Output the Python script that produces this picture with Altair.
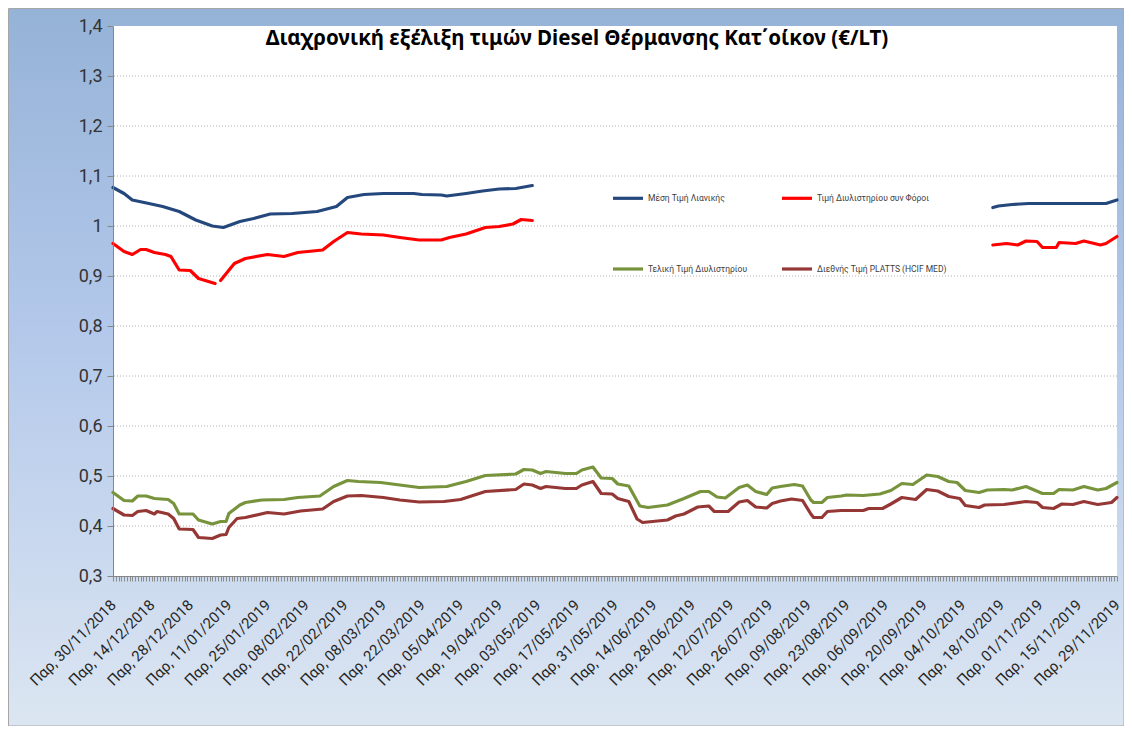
import altair as alt
import pandas as pd

TITLE = "Διαχρονική εξέλιξη τιμών Diesel Θέρμανσης Κατ΄οίκον (€/LT)"
SERIES = ["Μέση Τιμή Λιανικής", "Τιμή Διυλιστηρίου συν Φόροι",
          "Τελική Τιμή Διυλιστηρίου", "Διεθνής Τιμή PLATTS (HCIF MED)"]
COLORS = ["#24477C", "#FF0000", "#77933C", "#953735"]
WIDTHS = [3.2, 3.2, 3.4, 2.3]

Y_TICKS = [0.3, 0.4, 0.5, 0.6, 0.7, 0.8, 0.9, 1.0, 1.1, 1.2, 1.3, 1.4]
GRID_VALUES = [0.4, 0.5, 0.6, 0.7, 0.8, 0.9, 1.0, 1.1, 1.2, 1.3]

# None marks a gap (missing data) in a series
retail_dates = ["2018-11-30", "2018-12-04", "2018-12-07", "2018-12-13", "2018-12-18", "2018-12-24",
                "2018-12-30", "2019-01-05", "2019-01-09", "2019-01-15", "2019-01-20", "2019-01-26",
                "2019-02-03", "2019-02-12", "2019-02-19", "2019-02-23", "2019-03-01", "2019-03-08",
                "2019-03-19", "2019-03-22", "2019-03-29", "2019-03-31", "2019-04-07", "2019-04-13",
                "2019-04-19", "2019-04-25", "2019-05-01", "2019-07-01",
                "2019-10-15", "2019-10-17", "2019-10-22", "2019-10-28", "2019-11-25", "2019-11-29"]
retail_values = [1.077, 1.065, 1.052, 1.045, 1.039, 1.029,
                 1.012, 1.000, 0.997, 1.009, 1.015, 1.024,
                 1.025, 1.029, 1.039, 1.057, 1.063, 1.065,
                 1.065, 1.063, 1.062, 1.060, 1.065, 1.070,
                 1.074, 1.075, 1.081, None,
                 1.037, 1.040, 1.043, 1.045, 1.045, 1.052]

refinery_tax_dates = ["2018-11-30", "2018-12-04", "2018-12-07", "2018-12-10", "2018-12-12", "2018-12-15",
                      "2018-12-19", "2018-12-21", "2018-12-24", "2018-12-28", "2018-12-31", "2019-01-06",
                      "2019-01-07", "2019-01-08", "2019-01-13", "2019-01-17", "2019-01-25", "2019-01-31",
                      "2019-02-05", "2019-02-14", "2019-02-18", "2019-02-23", "2019-02-28", "2019-03-08",
                      "2019-03-14", "2019-03-21", "2019-03-29", "2019-04-01", "2019-04-07", "2019-04-14",
                      "2019-04-19", "2019-04-24", "2019-04-27", "2019-05-01", "2019-07-01",
                      "2019-10-15", "2019-10-20", "2019-10-24", "2019-10-27", "2019-10-31", "2019-11-02",
                      "2019-11-07", "2019-11-08", "2019-11-14", "2019-11-17", "2019-11-23", "2019-11-25",
                      "2019-11-29"]
refinery_tax_values = [0.965, 0.949, 0.943, 0.953, 0.953, 0.947,
                       0.943, 0.939, 0.912, 0.911, 0.895, 0.885,
                       None, 0.891, 0.925, 0.935, 0.943, 0.939,
                       0.947, 0.952, 0.969, 0.987, 0.984, 0.982,
                       0.977, 0.972, 0.972, 0.977, 0.984, 0.997,
                       0.999, 1.004, 1.013, 1.011, None,
                       0.962, 0.965, 0.962, 0.970, 0.969, 0.957,
                       0.957, 0.967, 0.965, 0.970, 0.962, 0.965,
                       0.979]

refinery_dates = ["2018-11-30", "2018-12-04", "2018-12-07", "2018-12-09", "2018-12-12", "2018-12-15",
                  "2018-12-20", "2018-12-22", "2018-12-24", "2018-12-29", "2018-12-31", "2019-01-05",
                  "2019-01-08", "2019-01-10", "2019-01-11", "2019-01-15", "2019-01-17", "2019-01-23",
                  "2019-01-31", "2019-02-05", "2019-02-13", "2019-02-18", "2019-02-23", "2019-02-27",
                  "2019-03-07", "2019-03-14", "2019-03-21", "2019-03-31", "2019-04-07", "2019-04-14",
                  "2019-04-25", "2019-04-28", "2019-05-01", "2019-05-04", "2019-05-06", "2019-05-13",
                  "2019-05-17", "2019-05-19", "2019-05-23", "2019-05-26", "2019-05-30", "2019-06-01",
                  "2019-06-05", "2019-06-09", "2019-06-12", "2019-06-19", "2019-06-25", "2019-07-01",
                  "2019-07-04", "2019-07-07", "2019-07-10", "2019-07-15", "2019-07-18", "2019-07-21",
                  "2019-07-25", "2019-07-27", "2019-07-30", "2019-08-04", "2019-08-07", "2019-08-10",
                  "2019-08-11", "2019-08-14", "2019-08-16", "2019-08-21", "2019-08-23", "2019-08-29",
                  "2019-09-04", "2019-09-08", "2019-09-12", "2019-09-16", "2019-09-21", "2019-09-25",
                  "2019-09-29", "2019-10-02", "2019-10-05", "2019-10-10", "2019-10-13", "2019-10-19",
                  "2019-10-22", "2019-10-27", "2019-11-02", "2019-11-06", "2019-11-08", "2019-11-13",
                  "2019-11-17", "2019-11-22", "2019-11-25", "2019-11-29"]
refinery_values = [0.467, 0.451, 0.450, 0.460, 0.460, 0.455,
                   0.453, 0.445, 0.424, 0.424, 0.412, 0.404,
                   0.409, 0.409, 0.425, 0.442, 0.447, 0.452,
                   0.453, 0.457, 0.460, 0.479, 0.491, 0.489,
                   0.487, 0.482, 0.477, 0.479, 0.489, 0.501,
                   0.504, 0.513, 0.512, 0.505, 0.509, 0.505,
                   0.505, 0.512, 0.518, 0.496, 0.495, 0.484,
                   0.480, 0.440, 0.437, 0.442, 0.455, 0.469,
                   0.469, 0.458, 0.456, 0.477, 0.482, 0.469,
                   0.463, 0.476, 0.479, 0.483, 0.480, 0.452,
                   0.447, 0.447, 0.457, 0.460, 0.462, 0.461,
                   0.464, 0.471, 0.485, 0.483, 0.502, 0.499,
                   0.489, 0.487, 0.471, 0.467, 0.472, 0.473,
                   0.472, 0.479, 0.465, 0.465, 0.473, 0.472,
                   0.479, 0.472, 0.475, 0.487]

platts_dates = ["2018-11-30", "2018-12-04", "2018-12-07", "2018-12-09", "2018-12-12", "2018-12-15",
                "2018-12-16", "2018-12-20", "2018-12-22", "2018-12-24", "2018-12-29", "2018-12-31",
                "2019-01-05", "2019-01-08", "2019-01-10", "2019-01-11", "2019-01-14", "2019-01-17",
                "2019-01-25", "2019-01-31", "2019-02-06", "2019-02-14", "2019-02-18", "2019-02-23",
                "2019-02-28", "2019-03-08", "2019-03-14", "2019-03-21", "2019-03-30", "2019-04-05",
                "2019-04-14", "2019-04-25", "2019-04-28", "2019-05-01", "2019-05-04", "2019-05-06",
                "2019-05-13", "2019-05-17", "2019-05-19", "2019-05-23", "2019-05-26", "2019-05-30",
                "2019-06-01", "2019-06-05", "2019-06-08", "2019-06-10", "2019-06-19", "2019-06-22",
                "2019-06-25", "2019-06-30", "2019-07-04", "2019-07-06", "2019-07-11", "2019-07-15",
                "2019-07-18", "2019-07-21", "2019-07-25", "2019-07-27", "2019-07-30", "2019-08-03",
                "2019-08-07", "2019-08-10", "2019-08-11", "2019-08-14", "2019-08-16", "2019-08-21",
                "2019-08-29", "2019-08-31", "2019-09-05", "2019-09-08", "2019-09-12", "2019-09-17",
                "2019-09-21", "2019-09-25", "2019-09-29", "2019-10-03", "2019-10-05", "2019-10-10",
                "2019-10-12", "2019-10-19", "2019-10-27", "2019-10-31", "2019-11-02", "2019-11-06",
                "2019-11-09", "2019-11-13", "2019-11-17", "2019-11-22", "2019-11-27", "2019-11-29"]
platts_values = [0.435, 0.422, 0.421, 0.429, 0.431, 0.424,
                 0.429, 0.424, 0.415, 0.394, 0.393, 0.377,
                 0.375, 0.382, 0.383, 0.397, 0.415, 0.417,
                 0.427, 0.424, 0.430, 0.434, 0.449, 0.460,
                 0.461, 0.457, 0.452, 0.448, 0.449, 0.453,
                 0.469, 0.473, 0.484, 0.482, 0.475, 0.479,
                 0.475, 0.475, 0.482, 0.489, 0.465, 0.464,
                 0.455, 0.449, 0.414, 0.407, 0.412, 0.420,
                 0.424, 0.438, 0.440, 0.429, 0.429, 0.448,
                 0.451, 0.438, 0.436, 0.445, 0.450, 0.454,
                 0.451, 0.424, 0.417, 0.417, 0.429, 0.431,
                 0.431, 0.435, 0.435, 0.444, 0.457, 0.453,
                 0.473, 0.470, 0.459, 0.455, 0.441, 0.437,
                 0.442, 0.443, 0.449, 0.447, 0.437, 0.435,
                 0.444, 0.443, 0.449, 0.443, 0.447, 0.457]

rows = []
for name, dates, vals in zip(SERIES,
                             [retail_dates, refinery_tax_dates, refinery_dates, platts_dates],
                             [retail_values, refinery_tax_values, refinery_values, platts_values]):
    seg = 0
    for d, v in zip(dates, vals):
        if v is None:
            seg += 1
            continue
        rows.append({"date": d, "value": v, "series": name, "seg": f"{name}-{seg}"})
df = pd.DataFrame(rows)

W, H = 1004, 550
PAD = {"left": 105, "top": 18, "right": 7, "bottom": 150}

x_axis = alt.Axis(
    title=None, grid=False, zindex=1,
    tickCount=alt.TimeIntervalStep(interval="day", step=1),
    labelExpr="(round((datum.value - utc(2018,10,30)) / 86400000) % 14 == 0) ? 'Παρ, ' + utcFormat(datum.value, '%d/%m/%Y') : ''",
    labelAngle=-45, labelAlign="right", labelBaseline="top",
    labelOverlap=False, labelFlush=False, labelBound=False,
    labelFont="Roboto", labelFontSize=15, labelColor="#262626",
    labelPadding=16, labelOffset=-5,
    tickSize=5, tickColor="#8C8C8C", domainColor="#868686",
)
y_axis = alt.Axis(
    title=None, grid=False, zindex=1, values=Y_TICKS,
    labelExpr="datum.value == 1 ? '1' : replace(format(datum.value, '.1f'), '.', ',')",
    labelFont="Roboto", labelFontSize=18, labelColor="#333333", labelPadding=5,
    tickSize=6, tickColor="#868686", domainColor="#868686",
)
y_scale = alt.Scale(domain=[0.3, 1.4], nice=False, zero=False)

gradient = alt.LinearGradient(
    gradient="linear", x1=0, x2=0, y1=0, y2=1,
    stops=[alt.GradientStop(color="#95B3D7", offset=0),
           alt.GradientStop(color="#B3C8EA", offset=0.45),
           alt.GradientStop(color="#DCE6F2", offset=1)],
)

bg = alt.Chart(alt.Data(values=[{"k": 1}])).mark_rect(
    fill=gradient, stroke="#A6A6A6", strokeWidth=1
).encode(x=alt.value(-PAD["left"] + 0.5), x2=alt.value(W + PAD["right"]),
         y=alt.value(-PAD["top"] + 0.5), y2=alt.value(H + PAD["bottom"]))

plot_bg = alt.Chart(alt.Data(values=[{"k": 1}])).mark_rect(fill="white").encode(
    x=alt.value(0), x2=alt.value(W), y=alt.value(0), y2=alt.value(H))

grid = alt.Chart(pd.DataFrame({"g": GRID_VALUES})).mark_rule(
    color="#B0B0B0", strokeDash=[1, 2], strokeWidth=1
).encode(y=alt.Y("g:Q", axis=y_axis, scale=y_scale))

legend = alt.Legend(
    title=None, orient="none", legendX=498, legendY=155, columns=2, direction="horizontal",
    symbolType="stroke", symbolSize=900, symbolStrokeWidth=3,
    labelFont="Roboto", labelFontSize=8.5, labelColor="#404040", labelOffset=3,
    rowPadding=47, columnPadding=27, padding=0, labelLimit=400,
)

lines = alt.Chart(df).mark_line(strokeJoin="round", strokeCap="round").encode(
    x=alt.X("date:T", axis=x_axis,
            scale=alt.Scale(type="utc",
                            domain=[alt.DateTime(year=2018, month=11, date=30, utc=True),
                                    alt.DateTime(year=2019, month=11, date=29, utc=True)])),
    y=alt.Y("value:Q", axis=y_axis, scale=y_scale),
    color=alt.Color("series:N", sort=SERIES, scale=alt.Scale(domain=SERIES, range=COLORS), legend=legend),
    strokeWidth=alt.StrokeWidth("series:N", scale=alt.Scale(domain=SERIES, range=WIDTHS), legend=None),
    detail="seg:N",
)

title = alt.Chart(alt.Data(values=[{"t": TITLE}])).mark_text(
    font="Noto Sans", fontWeight="bold", fontSize=20.5, color="#000000",
    align="center", baseline="alphabetic"
).encode(x=alt.value(464), y=alt.value(19), text="t:N")

chart = alt.layer(bg, plot_bg, grid, lines, title).properties(
    width=W, height=H, padding=PAD, autosize=alt.AutoSizeParams(type="none"),
).configure_view(stroke=None)

chart.save("out.html", embed_options={"renderer": "svg", "actions": False})
